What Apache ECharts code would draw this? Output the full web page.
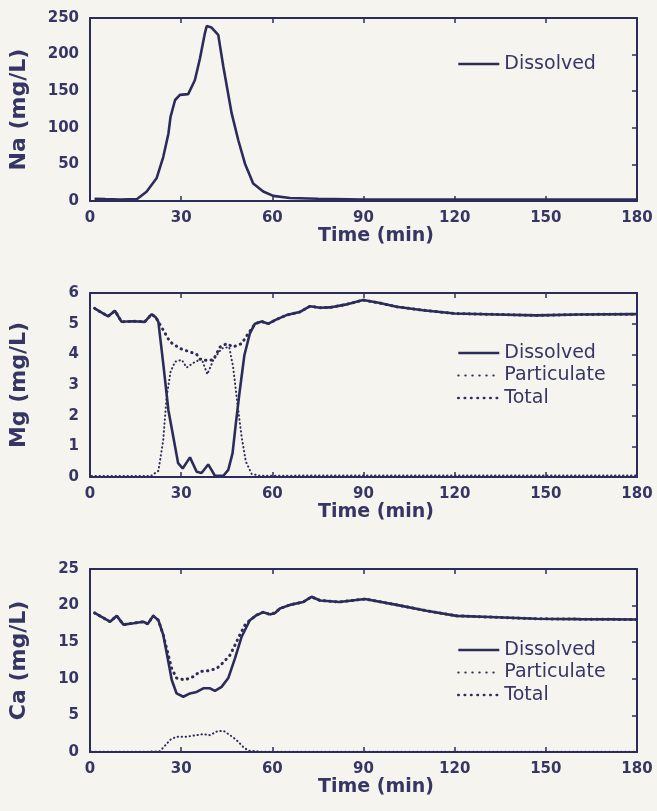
<!DOCTYPE html>
<html>
<head>
<meta charset="utf-8">
<script src="https://cdn.jsdelivr.net/npm/echarts@6/dist/echarts.min.js"></script>
<style>
html,body{margin:0;padding:0;background:#f6f4ef;}
#chart{width:657px;height:811px;}
</style>
</head>
<body>
<div id="chart"></div>
<script>
// ---- Data ----
const xTicks = [0, 30, 60, 90, 120, 150, 180];

// Panel 1: Na
const naTime = [1.5, 5, 10, 15.4, 18.6, 21.9, 24.1, 25.8, 26.5, 28, 29.6, 32.3, 34.5, 36.2, 37.8, 38.4, 40, 42.2, 43.9, 46.6, 48.8, 51, 53.7, 57, 60.3, 65.8, 75, 90, 120, 150, 180];
const naDissolved = [3, 2.5, 2, 2.5, 12.7, 31, 60, 92, 115, 138, 145, 146, 165, 195, 229, 239, 237, 227, 183, 120, 83, 51, 24, 13, 7, 4, 3, 2, 2, 2, 2];

// Panel 2: Mg
const mgDisTime = [1.5, 4, 6, 8.2, 10.4, 14, 18, 20.3, 21.7, 22.5, 24.1, 25.8, 27.4, 29, 30.5, 32.9, 35.1, 36.7, 38.9, 41.1, 43.9, 45.5, 46.9, 48, 49.3, 50.8, 52.6, 54.3, 56.5, 58.7, 61.4, 64.7, 69, 72.4, 75.7, 79, 84, 89.9, 95, 100.9, 109.6, 120, 133.8, 146.9, 161, 180];
const mgDissolved = [5.5, 5.35, 5.24, 5.42, 5.06, 5.08, 5.06, 5.31, 5.2, 5.06, 3.7, 2.18, 1.31, 0.45, 0.28, 0.64, 0.17, 0.13, 0.41, 0.04, 0.04, 0.23, 0.77, 1.75, 2.83, 3.97, 4.68, 5.0, 5.07, 5.0, 5.14, 5.28, 5.38, 5.57, 5.52, 5.53, 5.62, 5.77, 5.68, 5.55, 5.44, 5.33, 5.3, 5.27, 5.3, 5.31];
const mgPartTime = [0.5, 10, 20, 22.5, 24.1, 25.2, 26.5, 28, 30.2, 31.8, 34, 36.7, 38.6, 40.6, 43.3, 45.8, 47.1, 48.5, 49.9, 51.3, 53.2, 56, 80, 120, 180];
const mgParticulate = [0.03, 0.03, 0.03, 0.2, 1.2, 2.6, 3.43, 3.76, 3.82, 3.57, 3.72, 3.86, 3.35, 3.82, 4.19, 4.24, 3.59, 2.4, 1.31, 0.5, 0.1, 0.04, 0.05, 0.05, 0.05];
const mgTotTime = [1.5, 4, 6, 8.2, 10.4, 14, 18, 20.3, 21.7, 22.5, 24.1, 26.3, 29.6, 32.9, 35.1, 36.2, 38.4, 40.6, 42.8, 45, 47.1, 49.9, 52.1, 54.3, 56.5, 58.7, 61.4, 64.7, 69, 72.4, 75.7, 79, 84, 89.9, 95, 100.9, 109.6, 120, 133.8, 146.9, 161, 180];
const mgTotal = [5.5, 5.35, 5.24, 5.42, 5.06, 5.08, 5.06, 5.31, 5.2, 5.06, 4.79, 4.41, 4.19, 4.08, 4.0, 3.84, 3.8, 3.82, 4.24, 4.35, 4.24, 4.35, 4.68, 5.0, 5.07, 5.0, 5.14, 5.28, 5.38, 5.57, 5.52, 5.53, 5.62, 5.77, 5.68, 5.55, 5.44, 5.33, 5.3, 5.27, 5.3, 5.31];

// Panel 3: Ca
const caDisTime = [1.5, 6.6, 8.8, 11, 14.3, 17.5, 19, 20.8, 22.5, 24.1, 25.8, 26.9, 28.5, 30.7, 32.9, 35.1, 37.3, 39.5, 41.1, 43.3, 45.5, 47.7, 49.9, 52.6, 54.8, 57, 59.2, 60.9, 62.5, 65.8, 70.2, 72.9, 75.7, 79, 82, 90.5, 100.9, 110.7, 120.6, 133.8, 146.9, 161, 180];
const caDissolved = [19.0, 17.8, 18.6, 17.4, 17.6, 17.8, 17.5, 18.6, 18.0, 16.0, 12.3, 9.84, 8.0, 7.55, 8.0, 8.2, 8.7, 8.7, 8.35, 8.9, 10.1, 12.8, 15.75, 18.0, 18.7, 19.1, 18.8, 19.0, 19.6, 20.1, 20.5, 21.2, 20.7, 20.6, 20.5, 20.9, 20.1, 19.3, 18.6, 18.4, 18.2, 18.15, 18.1];
const caPartTime = [0.5, 10, 20, 23, 24.3, 26.5, 28.5, 31.8, 35.1, 37.3, 39.5, 41.7, 43.9, 46.1, 48.2, 50.4, 52, 56, 90, 180];
const caParticulate = [0.05, 0.05, 0.05, 0.1, 0.7, 1.7, 2.1, 2.1, 2.3, 2.45, 2.3, 2.8, 2.9, 2.3, 1.64, 0.7, 0.2, 0.05, 0.05, 0.05];
const caTotTime = [1.5, 6.6, 8.8, 11, 14.3, 17.5, 19, 20.8, 22.5, 24.1, 25.8, 26.9, 28.5, 31.2, 34, 36.2, 38.9, 41.7, 43.9, 46.1, 47.7, 49.3, 51, 52.6, 54.8, 57, 59.2, 60.9, 62.5, 65.8, 70.2, 72.9, 75.7, 79, 82, 90.5, 100.9, 110.7, 120.6, 133.8, 146.9, 161, 180];
const caTotal = [19.0, 17.8, 18.6, 17.4, 17.6, 17.8, 17.5, 18.6, 18.0, 16.0, 13.2, 11.4, 10.1, 9.84, 10.3, 11.0, 11.1, 11.4, 12.25, 13.25, 14.6, 16.0, 17.35, 18.0, 18.7, 19.1, 18.8, 19.0, 19.6, 20.1, 20.5, 21.2, 20.7, 20.6, 20.5, 20.9, 20.1, 19.3, 18.6, 18.4, 18.2, 18.15, 18.1];

const yNames = ['Na (mg/L)', 'Mg (mg/L)', 'Ca (mg/L)'];
const yMax = [250, 6, 25];
const yInterval = [50, 1, 5];

// ---- Styling ----
const INK = '#2c2c5a';
const TXT = '#363664';
const zip = (t, v) => t.map((x, i) => [x, v[i]]);

const grids = [
  {left: 90, width: 547, top: 18, height: 183},
  {left: 90, width: 547, top: 293, height: 184},
  {left: 90, width: 547, top: 569, height: 183}
];

const axisLine = {show: true, onZero: false, lineStyle: {color: INK, width: 2}};
const tickStyle = {show: true, inside: true, length: 5, lineStyle: {color: INK, width: 1.5}};
const labelStyle = {color: TXT, fontFamily: 'DejaVu Sans', fontWeight: 'bold', fontSize: 15};

const xAxes = [], yAxes = [];
grids.forEach((g, i) => {
  xAxes.push({
    type: 'value', gridIndex: i, min: 0, max: 180, interval: 30, position: 'bottom',
    axisLine, axisTick: tickStyle, splitLine: {show: false},
    axisLabel: Object.assign({margin: 10}, labelStyle),
    name: 'Time (min)', nameLocation: 'middle', nameGap: 25,
    nameTextStyle: {color: TXT, fontFamily: 'DejaVu Sans', fontWeight: 'bold', fontSize: 19, padding: [0, 0, 0, 25]}
  });
  xAxes.push({
    type: 'value', gridIndex: i, min: 0, max: 180, interval: 30, position: 'top',
    axisLine, axisTick: tickStyle, splitLine: {show: false}, axisLabel: {show: false}
  });
  yAxes.push({
    type: 'value', gridIndex: i, min: 0, max: yMax[i], interval: yInterval[i], position: 'left',
    axisLine, axisTick: {show: false}, splitLine: {show: false},
    axisLabel: Object.assign({margin: 11}, labelStyle),
    name: yNames[i], nameLocation: 'middle', nameGap: 60,
    nameTextStyle: {color: TXT, fontFamily: 'DejaVu Sans', fontWeight: 'bold', fontSize: 22}
  });
  yAxes.push({
    type: 'value', gridIndex: i, min: 0, max: yMax[i], interval: yInterval[i], position: 'right',
    axisLine, axisTick: tickStyle, splitLine: {show: false}, axisLabel: {show: false}
  });
});

const solid = {color: INK, width: 2.6, type: 'solid'};
const fine = {color: INK, width: 2, type: [0.4, 3.6], cap: 'round'};
const coarse = {color: INK, width: 3, type: [0.4, 5.2], cap: 'round'};

function line(name, data, idx, style, z) {
  return {
    name, type: 'line', data, xAxisIndex: 2 * idx, yAxisIndex: 2 * idx,
    symbol: 'none', lineStyle: style, itemStyle: {color: INK}, z: z,
    animation: false, silent: true
  };
}

const series = [
  line('Dissolved', zip(naTime, naDissolved), 0, solid, 3),
  line('Dissolved', zip(mgDisTime, mgDissolved), 1, solid, 3),
  line('Particulate', zip(mgPartTime, mgParticulate), 1, fine, 2),
  line('Total', zip(mgTotTime, mgTotal), 1, coarse, 2),
  line('Dissolved', zip(caDisTime, caDissolved), 2, solid, 3),
  line('Particulate', zip(caPartTime, caParticulate), 2, fine, 2),
  line('Total', zip(caTotTime, caTotal), 2, coarse, 2)
];

const legendText = {color: TXT, fontFamily: 'DejaVu Sans', fontSize: 19};
function legend(top, names) {
  return {
    orient: 'vertical', left: 457, top: top, padding: 0,
    itemWidth: 41, itemHeight: 14, itemGap: 3.5,
    selectedMode: false, textStyle: legendText,
    itemStyle: {opacity: 0},
    data: names.map(n => ({
      name: n,
      itemStyle: {opacity: 0},
      lineStyle: n === 'Dissolved' ? {width: 2.6, type: 'solid'} :
                 n === 'Particulate' ? {width: 2, type: [0.4, 6.6], cap: 'round'} :
                 {width: 2.6, type: [0.4, 6.0], cap: 'round'}
    }))
  };
}

const option = {
  backgroundColor: '#f6f4ef',
  animation: false,
  grid: grids,
  xAxis: xAxes,
  yAxis: yAxes,
  legend: [
    legend(54.5, ['Dissolved']),
    legend(343.5, ['Dissolved', 'Particulate', 'Total']),
    legend(640.5, ['Dissolved', 'Particulate', 'Total'])
  ],
  series
};

const chart = echarts.init(document.getElementById('chart'), null, {renderer: 'canvas'});
chart.setOption(option);
</script>
</body>
</html>
